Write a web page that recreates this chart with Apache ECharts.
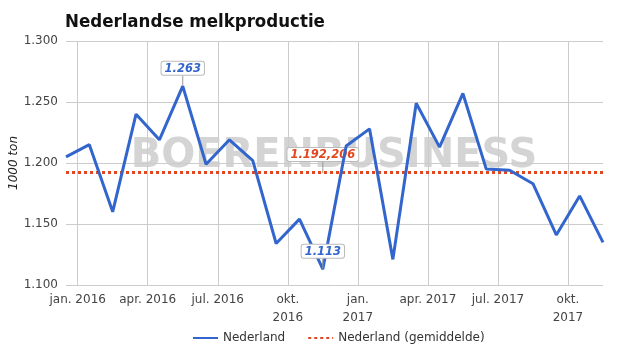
<!DOCTYPE html>
<html>
<head>
<meta charset="utf-8">
<script src="https://cdn.jsdelivr.net/npm/echarts@6/dist/echarts.min.js"></script>
<style>
  html, body { margin: 0; background: #fff; }
  #chart { width: 625px; height: 355px; }
</style>
</head>
<body>
<div id="chart"></div>
<script>
// maandcijfers, 1000 ton
const months = [
  'dec. 2015', 'jan. 2016', 'feb. 2016', 'mrt. 2016', 'apr. 2016', 'mei 2016',
  'jun. 2016', 'jul. 2016', 'aug. 2016', 'sep. 2016', 'okt. 2016', 'nov. 2016',
  'dec. 2016', 'jan. 2017', 'feb. 2017', 'mrt. 2017', 'apr. 2017', 'mei 2017',
  'jun. 2017', 'jul. 2017', 'aug. 2017', 'sep. 2017', 'okt. 2017', 'nov. 2017'
];
const production = [
  1205, 1215, 1160, 1240, 1219, 1263,
  1199, 1219, 1202, 1134, 1154, 1113,
  1214, 1228, 1121, 1249, 1213, 1257,
  1195, 1194, 1183, 1141, 1173, 1135
];
const average = 1192.206;
const labelledMonths = ['mei 2016', 'nov. 2016'];
const avgLabelMonth = 'nov. 2016';

// x-as: maandindex, ticks op de 1e van de maand
const tickPositions = [0.5, 3.5, 6.5, 9.5, 12.5, 15.5, 18.5, 21.5];
const tickLabels = ['jan. 2016', 'apr. 2016', 'jul. 2016', 'okt.\n2016', 'jan.\n2017', 'apr. 2017', 'jul. 2017', 'okt.\n2017'];

const FONT = "'DejaVu Sans', sans-serif";
const BLUE = '#3366cc';
const RED = '#e2471f';

const nl = (v) => {
  const s = String(Math.round(v));
  return s.replace(/\B(?=(\d{3})+(?!\d))/g, '.');
};
const nlDec = (v) => {
  const parts = v.toFixed(3).split('.');
  return nl(+parts[0]) + ',' + parts[1];
};

const boxLabel = (color) => ({
  show: true,
  position: 'top',
  distance: 2,
  color: color,
  fontFamily: FONT,
  fontSize: 11.5,
  fontStyle: 'italic',
  fontWeight: 'bold',
  backgroundColor: '#fff',
  borderColor: '#bbb',
  borderWidth: 1,
  borderRadius: 2,
  padding: [1, 3, 0, 3]
});

const mainData = production.map((v, i) => {
  const item = { name: months[i], value: [i, v] };
  if (labelledMonths.includes(months[i])) {
    item.symbol = 'circle';
    item.symbolSize = 1;
    item.label = Object.assign(boxLabel(BLUE), { formatter: (p) => nl(p.value[1]) });
  }
  return item;
});

const avgData = months.map((m, i) => {
  const item = { name: m, value: [i, average] };
  if (m === avgLabelMonth) {
    item.symbol = 'circle';
    item.symbolSize = 1;
    item.label = Object.assign(boxLabel(RED), { formatter: (p) => nlDec(p.value[1]) });
  }
  return item;
});

const chart = echarts.init(document.getElementById('chart'));

const option = {
  animation: false,
  title: {
    text: 'Nederlandse melkproductie',
    left: 60,
    top: 8,
    textStyle: {
      fontFamily: "'DejaVu Sans Condensed', 'DejaVu Sans', sans-serif",
      fontSize: 18.5,
      fontWeight: 'bold',
      color: '#111'
    }
  },
  graphic: [{
    type: 'text',
    x: 334,
    y: 157,
    z: -10,
    silent: true,
    style: {
      text: 'BOERENBUSINESS',
      align: 'center',
      verticalAlign: 'middle',
      fontFamily: "'DejaVu Sans', sans-serif",
      fontWeight: 'bold',
      fontSize: 40,
      fill: '#d4d4d4'
    }
  }],
  grid: { left: 66, right: 22, top: 41, bottom: 70, outerBoundsMode: 'none' },
  legend: {
    bottom: 6,
    left: 187,
    itemWidth: 25,
    itemHeight: 12,
    itemGap: 22,
    itemStyle: { opacity: 0 },
    textStyle: { fontFamily: FONT, fontSize: 12, color: '#333' },
    data: ['Nederland', 'Nederland (gemiddelde)']
  },
  xAxis: {
    type: 'value',
    min: 0,
    max: 23,
    axisLine: { show: false },
    axisTick: { show: false, customValues: tickPositions },
    splitLine: { show: true, customValues: tickPositions, lineStyle: { color: '#cccccc' } },
    axisLabel: {
      customValues: tickPositions,
      formatter: (v) => tickLabels[tickPositions.indexOf(v)] || '',
      fontFamily: FONT,
      fontSize: 12,
      color: '#444',
      lineHeight: 18,
      margin: 6
    }
  },
  yAxis: {
    type: 'value',
    min: 1100,
    max: 1300,
    interval: 50,
    name: '1000 ton',
    nameLocation: 'middle',
    nameRotate: 90,
    nameGap: 46,
    nameMoveOverlap: false,
    nameTextStyle: { fontFamily: FONT, fontSize: 12, fontStyle: 'italic', color: '#222' },
    axisLine: { show: false },
    axisTick: { show: false },
    splitLine: { lineStyle: { color: '#cccccc' } },
    axisLabel: {
      formatter: (v) => nl(v),
      fontFamily: FONT,
      fontSize: 12,
      color: '#444',
      margin: 8
    }
  },
  series: [
    {
      name: 'Nederland (gemiddelde)',
      type: 'line',
      symbol: 'none',
      z: 2,
      data: avgData,
      color: RED,
      lineStyle: { color: RED, width: 3, type: [3, 3] },
      labelLayout: { dy: -9 },
      labelLine: { show: true, lineStyle: { color: '#999', width: 1 } }
    },
    {
      name: 'Nederland',
      type: 'line',
      symbol: 'none',
      z: 3,
      data: mainData,
      color: BLUE,
      lineStyle: { color: BLUE, width: 3 },
      labelLayout: { dy: -9 },
      labelLine: { show: true, lineStyle: { color: '#999', width: 1 } }
    }
  ]
};

chart.setOption(option);
</script>
</body>
</html>
